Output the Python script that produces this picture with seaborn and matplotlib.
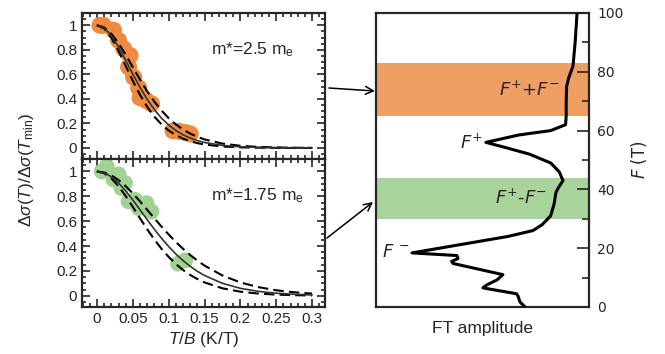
import matplotlib
matplotlib.use('Agg')
import matplotlib.pyplot as plt
from matplotlib.ticker import MultipleLocator
import pandas as pd
import seaborn as sns

# measured points (T/B, normalised amplitude)
orange_tb = [0.004, 0.009, 0.023, 0.030, 0.037, 0.046, 0.044, 0.051, 0.058, 0.060, 0.069,
             0.076, 0.106, 0.115, 0.123, 0.130]
orange_val = [1.00, 1.00, 0.96, 0.877, 0.81, 0.754, 0.66, 0.577, 0.49, 0.41, 0.385,
              0.36, 0.14, 0.135, 0.126, 0.115]
green_tb = [0.0135, 0.0065, 0.030, 0.023, 0.039, 0.034, 0.053, 0.044, 0.069, 0.058, 0.076,
            0.123, 0.113]
green_val = [1.04, 1.00, 0.976, 0.935, 0.908, 0.867, 0.772, 0.76, 0.745, 0.705, 0.677,
             0.285, 0.258]

# LK fit curves
t_fit = [0, .01, .02, .03, .04, .05, .06, .07, .08, .09, .10, .11, .12, .13, .14, .15,
         .175, .2, .225, .25, .275, .3]
fit_25 = [1, .9779, .9154, .823, .714, .6006, .4925, .3955, .3122, .2427, .1867, .1422,
          .1074, .0806, .0601, .0446, .0208, .0095, .0043, .0019, .0008, .0004]
fit_225 = [1, .982, .9308, .8532, .7589, .6573, .5564, .4621, .3776, .3046, .2427, .1918,
           .1503, .117, .0905, .0696, .0356, .0178, .0088, .0043, .0021, .001]
fit_275 = [1, .9733, .8989, .7914, .6686, .5455, .4326, .3356, .2555, .1918, .1422, .1044,
           .0761, .055, .0396, .0283, .012, .005, .0021, .0008, .0003, .0001]
fit_175 = [1, .9891, .9573, .9073, .8433, .7697, .6912, .6119, .5347, .4621, .3955, .3356,
           .2828, .2365, .1969, .1631, .1001, .0601, .0356, .0208, .012, .0069]
fit_15 = [1, .992, .9684, .9307, .8813, .823, .7588, .6912, .623, .5562, .4925, .4326,
          .3776, .3276, .2826, .2427, .1631, .1074, .0696, .0446, .0283, .0178]
fit_20 = [1, .9858, .9447, .8814, .8022, .714, .623, .5347, .4523, .3776, .3122, .2555,
          .2077, .1677, .1346, .1074, .0601, .033, .0178, .0095, .005, .0026]

# FT spectrum (frequency in T, amplitude arb.)
ft_freq = [100, 90, 82, 78, 75, 70, 65, 62, 60, 58.5, 56, 54, 52, 49, 46, 43, 41, 39, 35,
           31, 28, 26, 24, 18.4, 17.5, 16.5, 15.5, 14.8, 11, 9.2, 7.5, 6.5, 4.5, 3.7, 1.7, 0]
ft_amp = [0.944, 0.935, 0.925, 0.905, 0.895, 0.893, 0.893, 0.89, 0.82, 0.67, 0.516, 0.62,
          0.72, 0.82, 0.86, 0.878, 0.86, 0.845, 0.836, 0.82, 0.78, 0.737, 0.62, 0.169, 0.38,
          0.385, 0.355, 0.362, 0.596, 0.568, 0.52, 0.502, 0.66, 0.667, 0.676, 0.70]

xticks = [0, 0.05, 0.1, 0.15, 0.2, 0.25, 0.3]
xtick_labels = ['0', '0.05', '0.1', '0.15', '0.2', '0.25', '0.3']
yticks = [0, 0.2, 0.4, 0.6, 0.8, 1.0]
ytick_labels = ['0', '0.2', '0.4', '0.6', '0.8', '1']

orange_pt = '#EF8A3F'
green_pt = '#A2D293'
orange_band = '#EF9F64'
green_band = '#A8D49B'

sns.set_style('ticks')
plt.rcParams['font.family'] = ['Liberation Sans', 'DejaVu Sans']
plt.rcParams['mathtext.fontset'] = 'custom'
plt.rcParams['mathtext.rm'] = 'Liberation Sans'
plt.rcParams['mathtext.it'] = 'Liberation Sans:italic'
plt.rcParams['axes.linewidth'] = 1.6

fig = plt.figure(figsize=(6.65, 3.54), dpi=100)
ax_top = fig.add_axes([0.1233, 0.5508, 0.3654, 0.4124])
ax_bot = fig.add_axes([0.1233, 0.1328, 0.3654, 0.4180])
ax_ft = fig.add_axes([0.5654, 0.1328, 0.3203, 0.8305])

dash = (0, (5, 2.5))
panels = [
    (ax_top, orange_tb, orange_val, orange_pt, 150, fit_25, fit_225, fit_275,
     'm*=2.5 m$_\\mathrm{e}$'),
    (ax_bot, green_tb, green_val, green_pt, 130, fit_175, fit_15, fit_20,
     'm*=1.75 m$_\\mathrm{e}$'),
]
for ax, tb, val, col, size, solid, d1, d2, lab in panels:
    pts = pd.DataFrame({'tb': tb, 'val': val})
    sns.scatterplot(data=pts, x='tb', y='val', ax=ax, s=size, color=col,
                    edgecolor='none', linewidth=0, zorder=2)
    sns.lineplot(x=t_fit, y=d1, ax=ax, color='black', lw=1.5, ls=dash,
                 estimator=None, sort=False, zorder=3)
    sns.lineplot(x=t_fit, y=d2, ax=ax, color='black', lw=1.5, ls=dash,
                 estimator=None, sort=False, zorder=3)
    sns.lineplot(x=t_fit, y=solid, ax=ax, color='#333333', lw=1.2,
                 estimator=None, sort=False, zorder=4)
    ax.set_xlim(-0.021, 0.318)
    ax.set_ylim(-0.09, 1.1)
    ax.set_xticks(xticks)
    ax.set_yticks(yticks)
    ax.set_yticklabels(ytick_labels)
    ax.xaxis.set_minor_locator(MultipleLocator(0.01))
    ax.yaxis.set_minor_locator(MultipleLocator(0.05))
    ax.tick_params(which='both', direction='in', top=True, right=True, width=1.2,
                   labelsize=11)
    ax.tick_params(which='major', length=6)
    ax.tick_params(which='minor', length=3)
    ax.set_xlabel('')
    ax.set_ylabel('')
    ax.text(0.53, 0.75, lab, transform=ax.transAxes, fontsize=12.5, va='center')

ax_top.set_xticklabels([])
ax_bot.set_xticklabels(xtick_labels)
ax_bot.set_xlabel('$T/B$ (K/T)', fontsize=12.5, labelpad=3)
fig.text(0.04, 0.52, r'$\Delta\sigma(T)/\Delta\sigma(T_\mathrm{min})$', rotation=90,
         fontsize=12.5, ha='center', va='center')

# FT panel
ax_ft.axhspan(65, 83, color=orange_band, lw=0, zorder=0)
ax_ft.axhspan(30, 44, color=green_band, lw=0, zorder=0)
sns.lineplot(x=ft_amp, y=ft_freq, ax=ax_ft, color='black', lw=2.2,
             estimator=None, sort=False, zorder=3)
ax_ft.set_xlim(0, 1)
ax_ft.set_ylim(0, 100)
ax_ft.set_xticks([])
ax_ft.set_yticks([0, 20, 40, 60, 80, 100])
ax_ft.yaxis.set_minor_locator(MultipleLocator(10))
ax_ft.yaxis.tick_right()
ax_ft.yaxis.set_label_position('right')
ax_ft.tick_params(which='both', direction='in', left=False, right=True, width=1.2)
ax_ft.tick_params(which='major', length=9, labelsize=10, pad=6)
ax_ft.tick_params(which='minor', length=5)
for lbl in ax_ft.get_yticklabels():
    lbl.set_family('DejaVu Sans')
ax_ft.set_xlabel('FT amplitude', fontsize=12.5, labelpad=10)
ax_ft.set_ylabel('$F$ (T)', fontsize=12, family='DejaVu Sans', labelpad=4)
ax_ft.yaxis.label.set_math_fontfamily('dejavusans')

ann = dict(fontsize=13, ha='right', va='center', math_fontfamily='dejavusans',
           family='DejaVu Sans')
ax_ft.text(0.864, 73.8, '$F^{+}$+$F^{-}$', **ann)
ax_ft.text(0.50, 55.8, '$F^{+}$', **ann)
ax_ft.text(0.803, 37.1, '$F^{+}$-$F^{-}$', **ann)
ax_ft.text(0.155, 18.7, '$F$ $^{-}$', **ann)

arrow = dict(arrowstyle='->', color='black', lw=1.1, mutation_scale=14,
             shrinkA=0, shrinkB=0)
fig.add_artist(matplotlib.patches.FancyArrowPatch((0.4947, 0.7514), (0.5639, 0.7429),
                                                  transform=fig.transFigure, **arrow))
fig.add_artist(matplotlib.patches.FancyArrowPatch((0.4917, 0.3277), (0.5609, 0.4294),
                                                  transform=fig.transFigure, **arrow))

fig.savefig('out.png', dpi=100)
